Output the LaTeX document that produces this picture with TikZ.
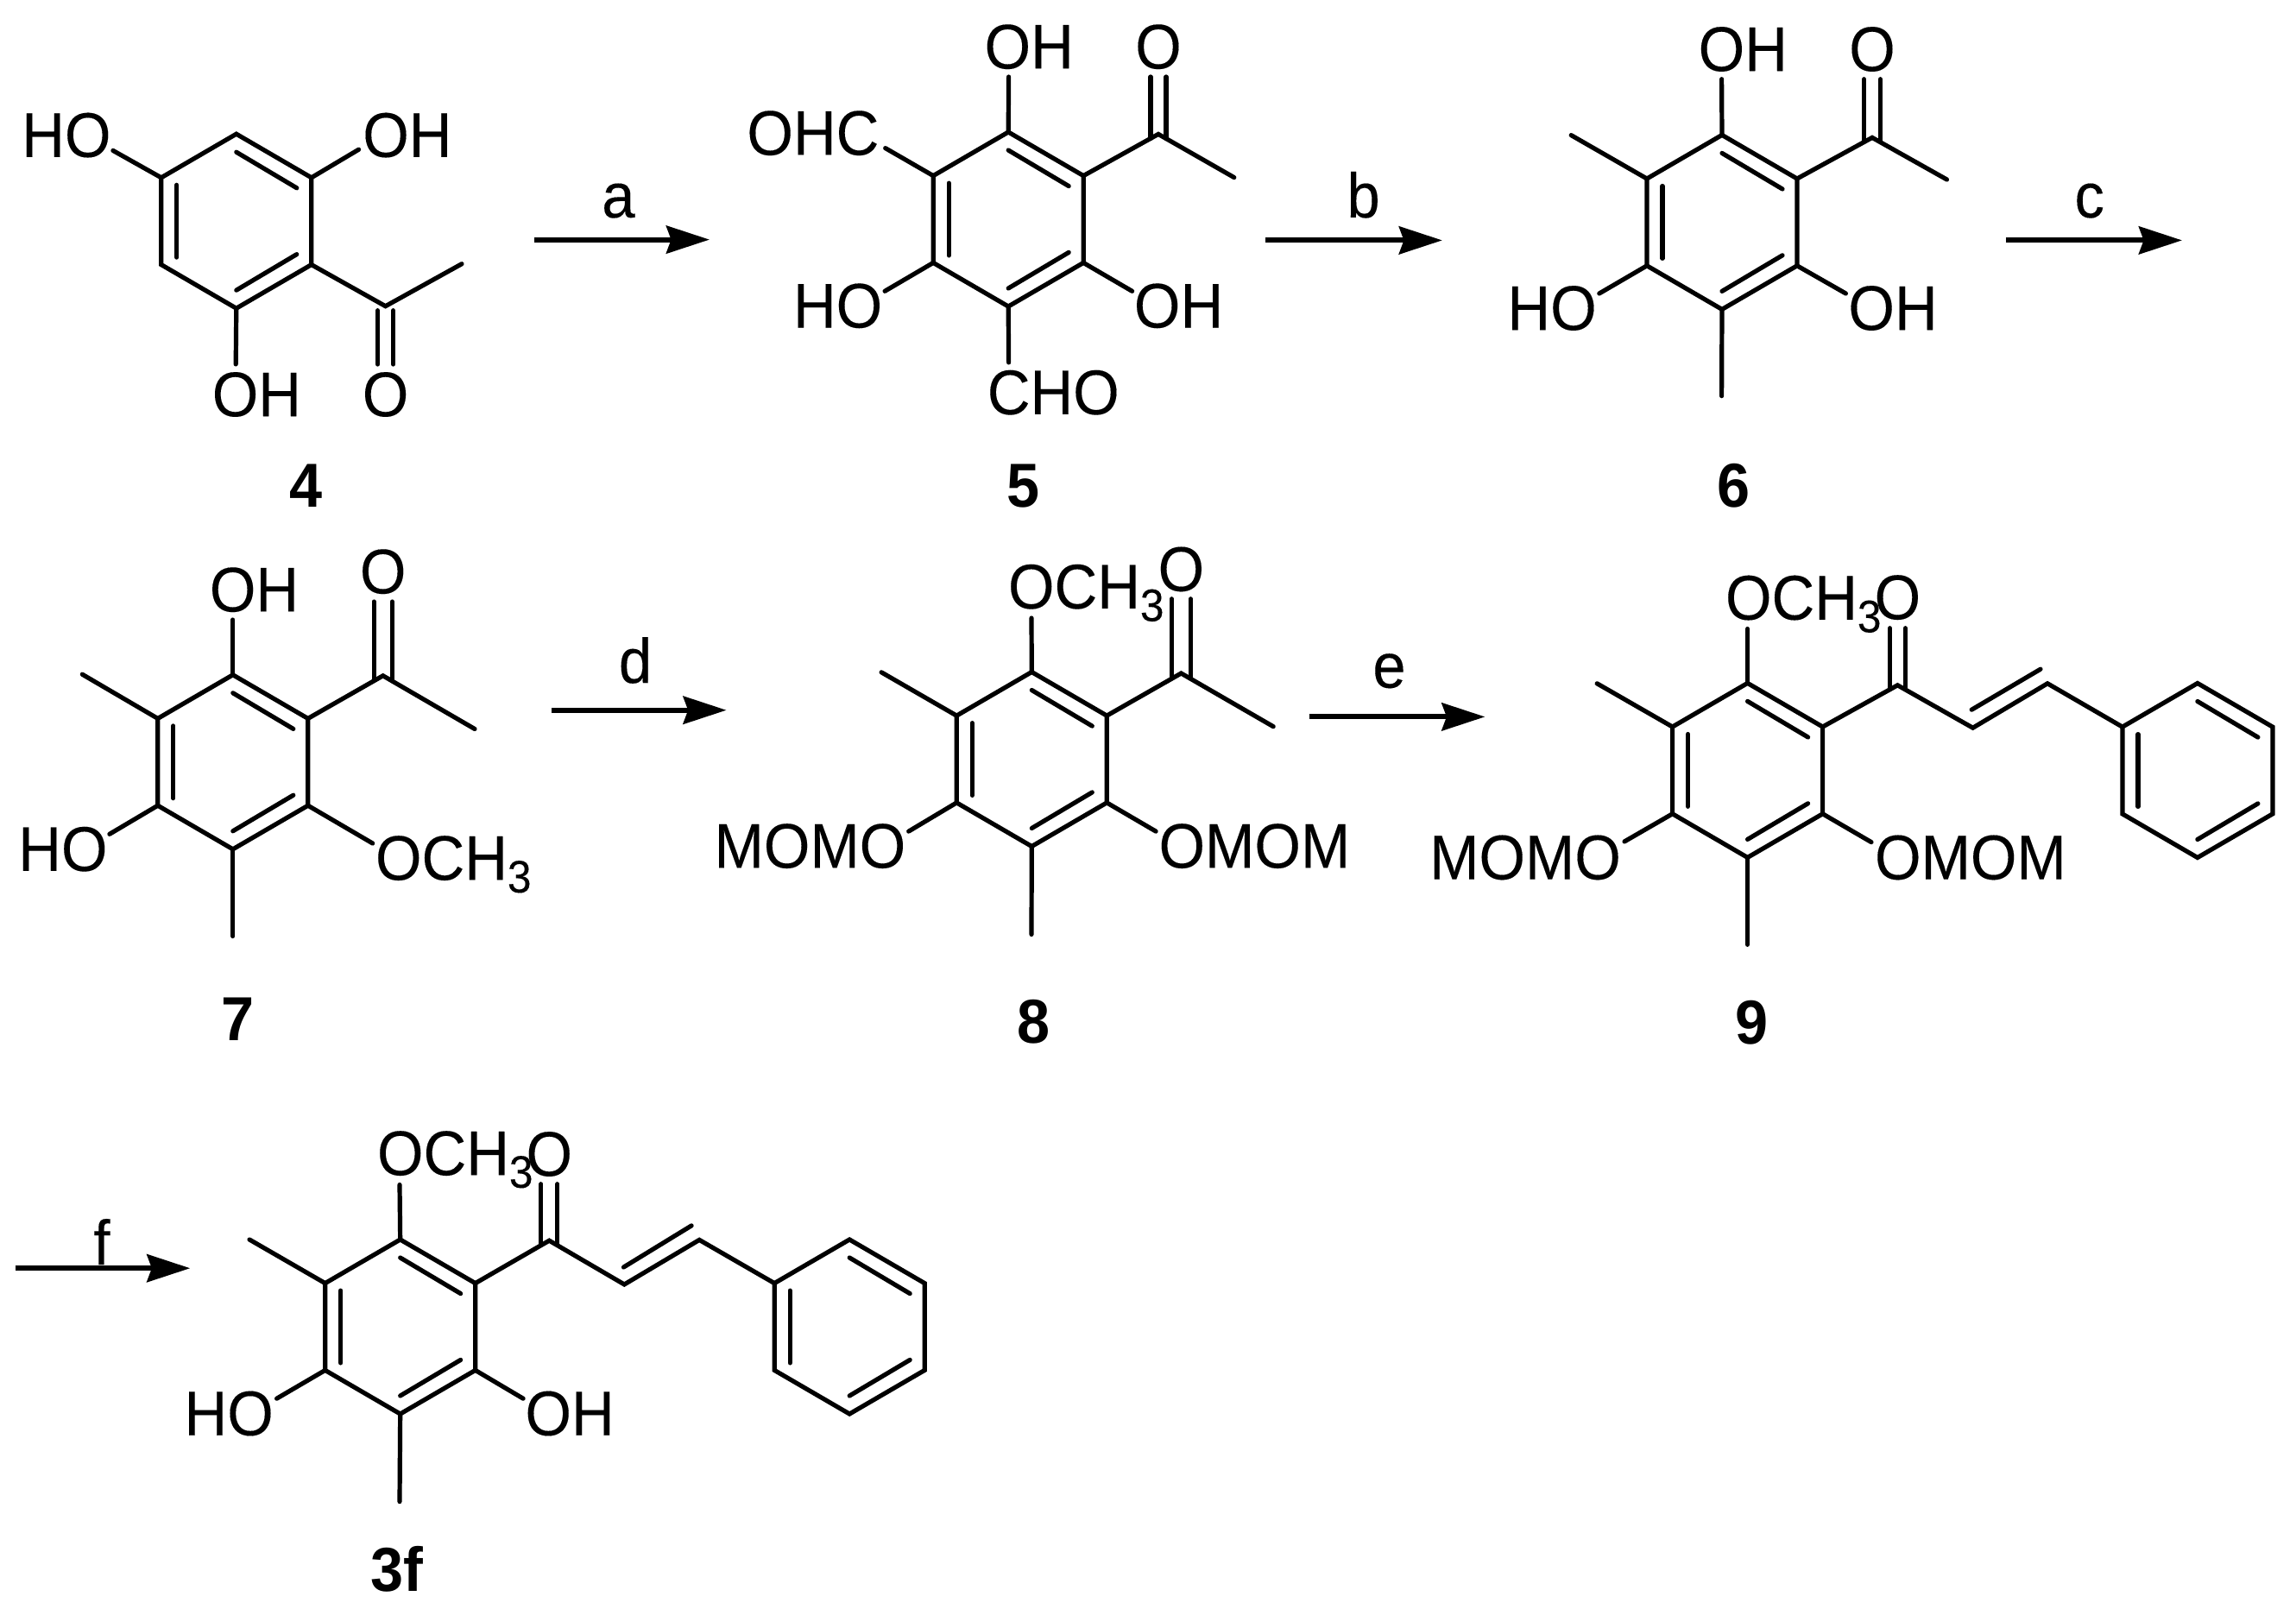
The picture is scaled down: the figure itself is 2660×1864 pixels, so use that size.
\documentclass[tikz,border=0pt]{standalone}
\usepackage{fontspec}
\setmainfont{Liberation Sans}[FakeStretch=0.94,FakeBold=0.15]
\newfontfamily\cmpdfont{Liberation Sans}[FakeStretch=0.95]
\usetikzlibrary{arrows.meta,calc}
\newcommand{\ochthree}{OCH\raisebox{-3.65pt}{\fontsize{13.2pt}{13.2pt}\selectfont 3}}
% benzene ring: name, centre x, centre y; vertices 1 top, then clockwise
\newcommand{\benzring}[3]{%
  \coordinate (#11) at (#2,#3-101);
  \coordinate (#12) at (#2+87,#3-50.4);
  \coordinate (#13) at (#2+87,#3+50.4);
  \coordinate (#14) at (#2,#3+101);
  \coordinate (#15) at (#2-87,#3+50.4);
  \coordinate (#16) at (#2-87,#3-50.4);
  \draw[bond] (#11)--(#12)--(#13)--(#14)--(#15)--(#16)--cycle;
  \draw[bond] ($(#16)+(18,8.5)$)--($(#15)+(18,-8.5)$);
  \draw[bond] ($(#11)+(0,21)$)--($(#12)+(-17,12)$);
  \draw[bond] ($(#14)+(0,-21)$)--($(#13)+(-17,-12)$);
}
% carbonyl: carbon coordinate, oxygen-side free end coordinate, half spacing
\newcommand{\cdoubleo}[3]{%
  \draw[bond] ($(#1)+(-#3,5)$)--($(#2)+(-#3,0)$);
  \draw[bond] ($(#1)+(#3,5)$)--($(#2)+(#3,0)$);
}
\tikzset{
  bond/.style={line width=1.3pt,line cap=round,line join=miter,black},
  atom/.style={inner sep=0pt,outer sep=0pt,font=\fontsize{18.3pt}{18.3pt}\selectfont,text=black},
  cmpd/.style={inner sep=0pt,outer sep=0pt,font=\fontsize{18pt}{18pt}\cmpdfont\bfseries\selectfont,text=black},
  rxn/.style={inner sep=0pt,outer sep=0pt,anchor=base,font=\fontsize{18.3pt}{18.3pt}\selectfont,text=black},
  rxnarrow/.style={line width=1.5pt,black,-{Stealth[length=12.5pt,width=8pt,inset=1.4pt]}},
}
\begin{document}
\begin{tikzpicture}[x=0.25pt,y=-0.25pt]
\useasboundingbox (0,0) rectangle (2660,1864);
\fill[white] (0,0) rectangle (2660,1864);

% ---------- compound 4
\benzring{a}{273.8}{256.2}
\node[atom] (a-ho) at (76.9,156.6) {HO};
\node[atom] (a-oh1) at (471.9,156.6) {OH};
\node[atom] (a-oh2) at (297.4,457) {OH};
\node[atom] (a-o) at (446.6,457) {O};
\node[cmpd] (a-lab) at (354.8,563) {4};
\coordinate (a-b1) at (130.9,174.4);
\coordinate (a-b2) at (415.6,173.2);
\coordinate (a-b3) at (273.2,421.9);
\coordinate (a-c) at (446.6,354.7);
\coordinate (a-me) at (535,305.7);
\coordinate (a-b4) at (446.6,422);
\draw[bond] (a6)--(a-b1);
\draw[bond] (a2)--(a-b2);
\draw[bond] (a4)--(a-b3);
\draw[bond] (a3)--(a-c)--(a-me);
\cdoubleo{a-c}{a-b4}{9}

% arrow a
\coordinate (ra-s) at (618.8,277.6);
\coordinate (ra-e) at (822,277.6);
\draw[rxnarrow] (ra-s)--(ra-e);
\node[rxn] (ra) at (716.4,251.9) {a};

% ---------- compound 5
\benzring{b}{1168.2}{254}
\node[atom] (b-oh1) at (1192.2,54.2) {OH};
\node[atom] (b-o) at (1342,54.2) {O};
\node[atom] (b-ohc) at (941.9,154.2) {OHC};
\node[atom] (b-ho) at (970.6,354.3) {HO};
\node[atom] (b-oh2) at (1365.5,354.3) {OH};
\node[atom] (b-cho) at (1220.3,454.7) {CHO};
\node[cmpd] (b-lab) at (1185.9,563) {5};
\coordinate (b-b1) at (1168.6,89);
\coordinate (b-b2) at (1025.7,171.6);
\coordinate (b-b3) at (1025.1,337.3);
\coordinate (b-b4) at (1311.6,337.3);
\coordinate (b-b5) at (1168.6,419.9);
\coordinate (b-c) at (1342,155.4);
\coordinate (b-me) at (1429.8,205.6);
\coordinate (b-b6) at (1342,89);
\draw[bond] (b1)--(b-b1);
\draw[bond] (b6)--(b-b2);
\draw[bond] (b5)--(b-b3);
\draw[bond] (b3)--(b-b4);
\draw[bond] (b4)--(b-b5);
\draw[bond] (b2)--(b-c)--(b-me);
\cdoubleo{b-c}{b-b6}{9}

% arrow b
\coordinate (rb-s) at (1466,278.4);
\coordinate (rb-e) at (1670.9,278.4);
\draw[rxnarrow] (rb-s)--(rb-e);
\node[rxn] (rb) at (1579.6,251.9) {b};

% ---------- compound 6
\benzring{c}{1995}{257.4}
\node[atom] (c-oh1) at (2019.3,57) {OH};
\node[atom] (c-o) at (2169,57) {O};
\node[atom] (c-ho) at (1798.1,357) {HO};
\node[atom] (c-oh2) at (2193,357) {OH};
\node[cmpd] (c-lab) at (2008.3,563) {6};
\coordinate (c-me1) at (1820.2,156.6);
\coordinate (c-b1) at (1994.6,91.7);
\coordinate (c-c) at (2169,159.4);
\coordinate (c-me2) at (2255.5,208);
\coordinate (c-b2) at (2169,91.7);
\coordinate (c-b3) at (1852.8,340);
\coordinate (c-b4) at (2138.4,340);
\coordinate (c-me3) at (1994.6,458.7);
\draw[bond] (c6)--(c-me1);
\draw[bond] (c1)--(c-b1);
\draw[bond] (c5)--(c-b3);
\draw[bond] (c3)--(c-b4);
\draw[bond] (c4)--(c-me3);
\draw[bond] (c2)--(c-c)--(c-me2);
\cdoubleo{c-c}{c-b2}{9.4}

% arrow c
\coordinate (rc-s) at (2324.4,278.4);
\coordinate (rc-e) at (2528,278.4);
\draw[rxnarrow] (rc-s)--(rc-e);
\node[rxn] (rc) at (2420.7,251.9) {c};

% ---------- compound 7
\benzring{d}{269.8}{882.8}
\node[atom] (d-oh) at (294.5,683.2) {OH};
\node[atom] (d-o) at (443.7,662.2) {O};
\node[atom] (d-ho) at (72.9,983.7) {HO};
\node[atom,anchor=base west] (d-och) at (435,1019.3) {\ochthree};
\node[cmpd] (d-lab) at (276,1181) {7};
\coordinate (d-me1) at (95.3,781.2);
\coordinate (d-b1) at (269.8,718);
\coordinate (d-c) at (443.7,782.8);
\coordinate (d-me2) at (550,844.5);
\coordinate (d-b2) at (443.7,697);
\coordinate (d-b3) at (126.9,966.3);
\coordinate (d-b4) at (431.7,977);
\coordinate (d-me3) at (269.8,1084.5);
\draw[bond] (d6)--(d-me1);
\draw[bond] (d1)--(d-b1);
\draw[bond] (d5)--(d-b3);
\draw[bond] (d3)--(d-b4);
\draw[bond] (d4)--(d-me3);
\draw[bond] (d2)--(d-c)--(d-me2);
\cdoubleo{d-c}{d-b2}{10.6}

% arrow d
\coordinate (rd-s) at (639,822.7);
\coordinate (rd-e) at (841.6,822.7);
\draw[rxnarrow] (rd-s)--(rd-e);
\node[rxn] (rd) at (736,791.1) {d};

% ---------- compound 8
\benzring{e}{1195.3}{879.5}
\node[atom,anchor=base west] (e-och) at (1168,704.9) {\ochthree};
\node[atom] (e-o) at (1368.4,659.4) {O};
\node[atom] (e-momo) at (938.4,980.1) {MOMO};
\node[atom] (e-omom) at (1453.4,980.1) {OMOM};
\node[cmpd] (e-lab) at (1197.3,1184) {8};
\coordinate (e-me1) at (1021.1,778.8);
\coordinate (e-b1) at (1195,716);
\coordinate (e-c) at (1368.4,780);
\coordinate (e-me2) at (1475.2,841.7);
\coordinate (e-b2) at (1368.4,693.8);
\coordinate (e-b3) at (1052.7,963.1);
\coordinate (e-b4) at (1339.1,963.1);
\coordinate (e-me3) at (1195,1082.5);
\draw[bond] (e6)--(e-me1);
\draw[bond] (e1)--(e-b1);
\draw[bond] (e5)--(e-b3);
\draw[bond] (e3)--(e-b4);
\draw[bond] (e4)--(e-me3);
\draw[bond] (e2)--(e-c)--(e-me2);
\cdoubleo{e-c}{e-b2}{11}

% arrow e
\coordinate (re-s) at (1516.5,830.4);
\coordinate (re-e) at (1720.4,830.4);
\draw[rxnarrow] (re-s)--(re-e);
\node[rxn] (re) at (1609.5,796.6) {e};

% ---------- compound 9
\benzring{f}{2024.6}{892.4}
\benzring{g}{2545.9}{892.5}
\node[atom,anchor=base west] (f-och) at (1999,717.8) {\ochthree};
\node[atom] (f-o) at (2198.4,692.1) {O};
\node[atom] (f-momo) at (1767,993.4) {MOMO};
\node[atom] (f-omom) at (2282.9,993.4) {OMOM};
\node[cmpd] (f-lab) at (2030,1185) {9};
\coordinate (f-me1) at (1850.2,791.8);
\coordinate (f-b1) at (2024.6,728.5);
\coordinate (f-c) at (2198.4,793.8);
\coordinate (f-b2) at (2198.4,727.7);
\coordinate (f-ca) at (2285.6,843.2);
\coordinate (f-cb) at (2372.1,791.8);
\coordinate (f-d1) at (2284.2,822.2);
\coordinate (f-d2) at (2364,775.2);
\coordinate (f-b3) at (1882,974.9);
\coordinate (f-b4) at (2168,975.6);
\coordinate (f-me3) at (2024.6,1094.3);
\draw[bond] (f6)--(f-me1);
\draw[bond] (f1)--(f-b1);
\draw[bond] (f5)--(f-b3);
\draw[bond] (f3)--(f-b4);
\draw[bond] (f4)--(f-me3);
\draw[bond] (f2)--(f-c)--(f-ca)--(f-cb)--(g6);
\draw[bond] (f-d1)--(f-d2);
\cdoubleo{f-c}{f-b2}{9}

% arrow f
\coordinate (rf-s) at (17.5,1469.2);
\coordinate (rf-e) at (220.3,1469.2);
\draw[rxnarrow] (rf-s)--(rf-e);
\node[rxn] (rf) at (117.9,1465) {f};

% ---------- compound 3f
\benzring{h}{463.7}{1537}
\benzring{k}{984.2}{1537}
\node[atom,anchor=base west] (h-och) at (437,1361.3) {\ochthree};
\node[atom] (h-o) at (636.3,1337) {O};
\node[atom] (h-ho) at (265.2,1637.5) {HO};
\node[atom] (h-oh) at (660.1,1637.5) {OH};
\node[cmpd] (h-lab) at (460,1818) {3f};
\coordinate (h-me1) at (289,1436);
\coordinate (h-b1) at (463,1372.5);
\coordinate (h-c) at (636.3,1437.2);
\coordinate (h-b2) at (636.3,1371.7);
\coordinate (h-ca) at (723.3,1488);
\coordinate (h-cb) at (810.2,1436.4);
\coordinate (h-d1) at (722.5,1468);
\coordinate (h-d2) at (801.1,1419.9);
\coordinate (h-b3) at (320.6,1620.2);
\coordinate (h-b4) at (606.1,1620.2);
\coordinate (h-me3) at (463,1739.6);
\draw[bond] (h6)--(h-me1);
\draw[bond] (h1)--(h-b1);
\draw[bond] (h5)--(h-b3);
\draw[bond] (h3)--(h-b4);
\draw[bond] (h4)--(h-me3);
\draw[bond] (h2)--(h-c)--(h-ca)--(h-cb)--(k6);
\draw[bond] (h-d1)--(h-d2);
\cdoubleo{h-c}{h-b2}{9.5}
\end{tikzpicture}
\end{document}
